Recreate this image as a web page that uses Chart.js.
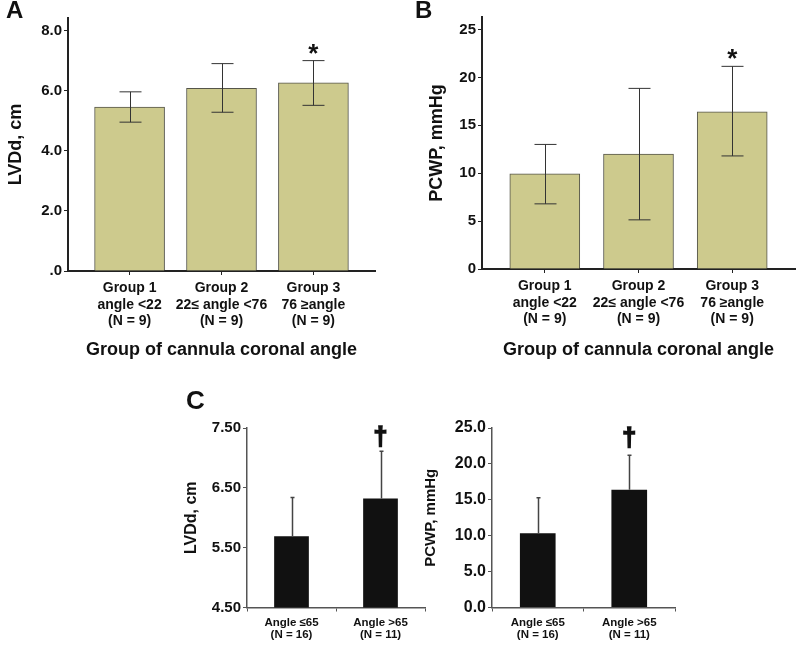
<!DOCTYPE html>
<html>
<head>
<meta charset="utf-8">
<script src="https://cdn.jsdelivr.net/npm/chart.js@4.4.1/dist/chart.umd.min.js"></script>
<style>
  body { margin: 0; background: #fff; }
  #wrap { position: relative; width: 800px; height: 646px; overflow: hidden; font-family: "Liberation Sans", Arial, sans-serif; }
  canvas { position: absolute; }
  .tag { position: absolute; font-weight: bold; font-size: 24px; line-height: 24px; color: #111; }
</style>
</head>
<body>
<div id="wrap">
  <canvas id="chartA" width="400" height="365" style="left:0;top:0"></canvas>
  <canvas id="chartB" width="400" height="365" style="left:400px;top:0"></canvas>
  <canvas id="chartC1" width="250" height="266" style="left:180px;top:380px"></canvas>
  <canvas id="chartC2" width="260" height="266" style="left:420px;top:380px"></canvas>
  <div class="tag" style="left:6px;top:-2px">A</div>
  <div class="tag" style="left:415px;top:-2px">B</div>
  <div class="tag" style="left:186px;top:388px;font-size:26px">C</div>
</div>
<script>
// panels A and B: three angle groups
const groupPos = [1, 2, 3];
const groupLabels = [
  ["Group 1", "angle <22", "(N = 9)"],
  ["Group 2", "22\u2264 angle <76", "(N = 9)"],
  ["Group 3", "76 \u2265angle", "(N = 9)"]
];
const lvddMean = [5.46, 6.09, 6.27];
const lvddLow = [4.96, 5.29, 5.52];
const lvddHigh = [5.97, 6.91, 7.01];
const pcwpMean = [9.93, 12.0, 16.4];
const pcwpLow = [6.8, 5.13, 11.8];
const pcwpHigh = [13.0, 18.85, 21.15];
const lvddTicks = [0, 2, 4, 6, 8];
const lvddTickLabels = [".0", "2.0", "4.0", "6.0", "8.0"];
const pcwpTicks = [0, 5, 10, 15, 20, 25];

// panel C: two angle groups
const angleLabels = [["Angle \u226465", "(N = 16)"], ["Angle >65", "(N = 11)"]];
const cLvddMean = [5.69, 6.32];
const cLvddHigh = [6.34, 7.11];
const cPcwpMean = [10.33, 16.39];
const cPcwpHigh = [15.28, 21.2];
const cLvddTicks = [4.5, 5.5, 6.5, 7.5];
const cPcwpTicks = [0, 5, 10, 15, 20, 25];

Chart.defaults.font.family = "'Liberation Sans', Arial, sans-serif";
Chart.defaults.font.weight = "bold";
Chart.defaults.color = "#111";

const khaki = "rgb(205, 202, 141)";

function makeErrorBars(cfg) {
  return {
    id: "errorBars",
    afterDatasetsDraw(chart) {
      const ctx = chart.ctx;
      const y = chart.scales.y;
      const bars = chart.getDatasetMeta(0).data;
      ctx.save();
      ctx.strokeStyle = cfg.color;
      ctx.lineWidth = cfg.width;
      bars.forEach((bar, i) => {
        const top = y.getPixelForValue(cfg.high[i]);
        const bottom = cfg.low ? y.getPixelForValue(cfg.low[i]) : bar.y;
        const x = Math.round(bar.x) + 0.5;
        ctx.beginPath();
        ctx.moveTo(x, bottom);
        ctx.lineTo(x, top);
        ctx.moveTo(x - cfg.cap / 2, top);
        ctx.lineTo(x + cfg.cap / 2, top);
        if (cfg.low) {
          ctx.moveTo(x - cfg.cap / 2, bottom);
          ctx.lineTo(x + cfg.cap / 2, bottom);
        }
        ctx.stroke();
      });
      const i = cfg.markIndex;
      ctx.fillStyle = "#111";
      ctx.strokeStyle = "#111";
      ctx.lineWidth = cfg.markStroke;
      ctx.font = cfg.markFont;
      ctx.textAlign = "center";
      ctx.textBaseline = "alphabetic";
      const mx = bars[i].x;
      const my = y.getPixelForValue(cfg.high[i]) + cfg.markDy;
      ctx.fillText(cfg.mark, mx, my);
      if (cfg.markStroke) ctx.strokeText(cfg.mark, mx, my);
      ctx.restore();
    }
  };
}

function groupChart(id, means, low, high, yMax, ticks, tickLabels, yTitle, pad, yWidth, xHeight) {
  return new Chart(document.getElementById(id), {
    type: "bar",
    data: {
      datasets: [{
        data: groupPos.map((x, i) => ({ x: x, y: means[i] })),
        backgroundColor: khaki,
        borderColor: "#55554a",
        borderWidth: 1,
        barThickness: 70
      }]
    },
    options: {
      responsive: false,
      animation: false,
      layout: { padding: pad },
      plugins: { legend: { display: false }, tooltip: { enabled: false } },
      scales: {
        x: {
          type: "linear",
          min: 0.33,
          max: 3.67,
          offset: false,
          afterBuildTicks: (s) => { s.ticks = groupPos.map((v) => ({ value: v })); },
          afterFit: (s) => { s.height = xHeight; },
          ticks: {
            callback: (v) => groupLabels[groupPos.indexOf(v)],
            font: { size: 14, lineHeight: 1.18 },
            padding: 5,
            maxRotation: 0,
            autoSkip: false
          },
          grid: { drawOnChartArea: false, offset: false, tickLength: 4, color: "#222" },
          border: { color: "#222", width: 2 },
          title: {
            display: true,
            text: "Group of cannula coronal angle",
            font: { size: 18 },
            padding: { top: 0, bottom: 4 }
          }
        },
        y: {
          min: 0,
          max: yMax,
          afterBuildTicks: (s) => { s.ticks = ticks.map((v) => ({ value: v })); },
          afterFit: (s) => { s.width = yWidth; },
          ticks: {
            callback: (v) => tickLabels[ticks.indexOf(v)],
            font: { size: 15 },
            padding: 2
          },
          grid: { drawOnChartArea: false, tickLength: 4, color: "#222" },
          border: { color: "#222", width: 2 },
          title: { display: true, text: yTitle, font: { size: 18 }, padding: { top: 4, bottom: 0 } }
        }
      }
    },
    plugins: [makeErrorBars({
      low: low, high: high, cap: 22, color: "#333", width: 1,
      mark: "*", markIndex: 2, markFont: "bold 26px 'Liberation Sans', Arial", markDy: 1, markStroke: 0
    })]
  });
}

function angleChart(id, means, high, yMin, yMax, ticks, digits, yTitle, titleSize, tickSize, yWidth, markDy) {
  return new Chart(document.getElementById(id), {
    type: "bar",
    data: {
      labels: angleLabels,
      datasets: [{
        data: means,
        backgroundColor: "#111",
        barPercentage: 0.39,
        categoryPercentage: 1
      }]
    },
    options: {
      responsive: false,
      animation: false,
      layout: { padding: { left: 2, top: 48, right: 5, bottom: 0 } },
      plugins: { legend: { display: false }, tooltip: { enabled: false } },
      scales: {
        x: {
          afterFit: (s) => { s.height = 38.5; },
          ticks: { font: { size: 11.5, lineHeight: 1.0 }, padding: 6, maxRotation: 0, autoSkip: false },
          grid: { offset: true, drawOnChartArea: false, tickLength: 4, color: "#555" },
          border: { color: "#555", width: 1.5 }
        },
        y: {
          min: yMin,
          max: yMax,
          afterBuildTicks: (s) => { s.ticks = ticks.map((v) => ({ value: v })); },
          afterFit: (s) => { s.width = yWidth; },
          ticks: { callback: (v) => v.toFixed(digits), font: { size: tickSize }, padding: 2 },
          grid: { drawOnChartArea: false, tickLength: 4, color: "#555" },
          border: { color: "#555", width: 1.5 },
          title: { display: true, text: yTitle, font: { size: titleSize }, padding: 0 }
        }
      }
    },
    plugins: [makeErrorBars({
      low: null, high: high, cap: 4, color: "#444", width: 1.5,
      mark: "\u2020", markIndex: 1, markFont: "bold 25px 'Liberation Sans', Arial", markDy: markDy, markStroke: 1.5
    })]
  });
}

groupChart("chartA", lvddMean, lvddLow, lvddHigh, 8.43, lvddTicks, lvddTickLabels, "LVDd, cm",
  { left: 1, top: 18, right: 25, bottom: 0 }, 67, 94);
groupChart("chartB", pcwpMean, pcwpLow, pcwpHigh, 26.3, pcwpTicks, pcwpTicks.map(String), "PCWP, mmHg",
  { left: 22, top: 17, right: 5, bottom: 0 }, 60, 96);
angleChart("chartC1", cLvddMean, cLvddHigh, 4.5, 7.5, cLvddTicks, 2, "LVDd, cm", 16, 15, 65, -6);
angleChart("chartC2", cPcwpMean, cPcwpHigh, 0, 25, cPcwpTicks, 1, "PCWP, mmHg", 15, 16, 70, -9);
</script>
</body>
</html>
